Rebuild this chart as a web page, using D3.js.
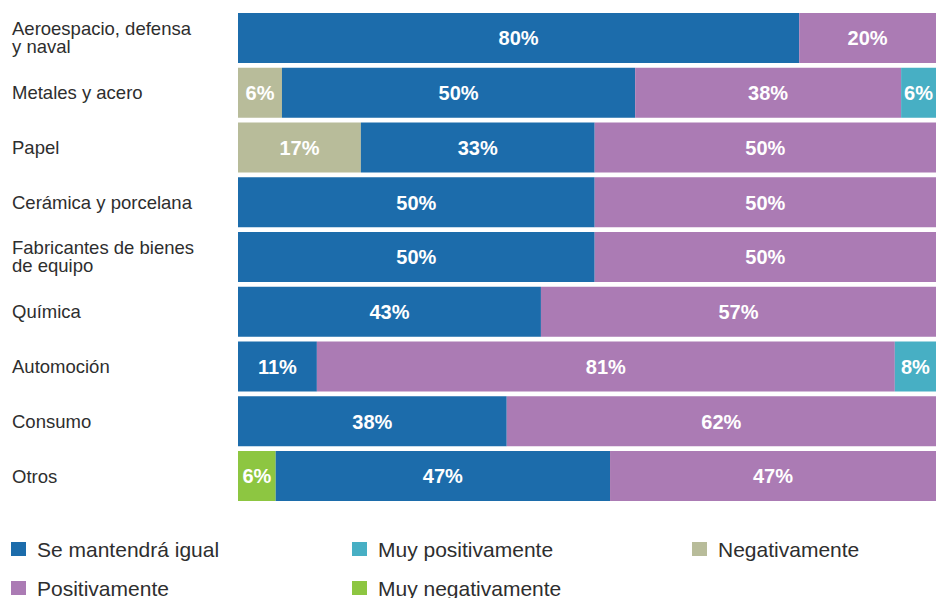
<!DOCTYPE html>
<html>
<head>
<meta charset="utf-8">
<style>
body { margin: 0; background: #fff; font-family: "Liberation Sans", Arial, sans-serif; }
.cat-label { font-size: 18.5px; fill: #2e2e2e; }
.val-label { font-size: 20px; font-weight: bold; fill: #fff; }
.legend-label { font-size: 21px; fill: #2e2e2e; }
</style>
</head>
<body>
<script src="https://cdn.jsdelivr.net/npm/d3@7"></script>
<script>
var width = 936, height = 598;

// categories (label lines)
var categories = [
  ["Aeroespacio, defensa", "y naval"],
  ["Metales y acero"],
  ["Papel"],
  ["Cerámica y porcelana"],
  ["Fabricantes de bienes", "de equipo"],
  ["Química"],
  ["Automoción"],
  ["Consumo"],
  ["Otros"]
];
var seriesKeys = ["Muy negativamente", "Negativamente", "Se mantendrá igual", "Positivamente", "Muy positivamente"];

// bar lengths as drawn in the picture (share of each bar, %)
var muyNegativamente = [0, 0, 0, 0, 0, 0, 0, 0, 5.4];
var negativamente    = [0, 6.3, 17.6, 0, 0, 0, 0, 0, 0];
var seMantendra      = [80.4, 50.6, 33.5, 51.1, 51.1, 43.4, 11.3, 38.5, 47.9];
var positivamente    = [19.6, 38.1, 48.9, 48.9, 48.9, 56.6, 82.8, 61.5, 46.7];
var muyPositivamente = [0, 5.0, 0, 0, 0, 0, 5.9, 0, 0];

// printed labels
var lblMuyNegativamente = [null, null, null, null, null, null, null, null, "6%"];
var lblNegativamente    = [null, "6%", "17%", null, null, null, null, null, null];
var lblSeMantendra      = ["80%", "50%", "33%", "50%", "50%", "43%", "11%", "38%", "47%"];
var lblPositivamente    = ["20%", "38%", "50%", "50%", "50%", "57%", "81%", "62%", "47%"];
var lblMuyPositivamente = [null, "6%", null, null, null, null, "8%", null, null];
var labelSets = {
  "Muy negativamente": lblMuyNegativamente,
  "Negativamente": lblNegativamente,
  "Se mantendrá igual": lblSeMantendra,
  "Positivamente": lblPositivamente,
  "Muy positivamente": lblMuyPositivamente
};

var colors = ["#8dc641", "#b8bc9a", "#1c6cab", "#ab7bb4", "#47afc4"];
var legendOrder = ["Se mantendrá igual", "Muy positivamente", "Negativamente", "Positivamente", "Muy negativamente"];

var rows = categories.map(function(c, i) {
  return {
    idx: i, name: c.join(" "), lines: c,
    "Muy negativamente": muyNegativamente[i],
    "Negativamente": negativamente[i],
    "Se mantendrá igual": seMantendra[i],
    "Positivamente": positivamente[i],
    "Muy positivamente": muyPositivamente[i]
  };
});

var svg = d3.select("body").append("svg")
    .attr("width", width)
    .attr("height", height);

var x = d3.scaleLinear().domain([0, 100]).range([238, 936]);
var y = d3.scaleBand().domain(rows.map(function(d) { return d.name; }))
    .range([13, 501]).paddingInner(0.0868).paddingOuter(0);
var color = d3.scaleOrdinal().domain(seriesKeys).range(colors);

var stacked = d3.stack().keys(seriesKeys)(rows);

var layer = svg.selectAll("g.layer").data(stacked).enter().append("g")
    .attr("class", "layer")
    .attr("fill", function(d) { return color(d.key); });

layer.selectAll("rect").data(function(d) { return d; }).enter().append("rect")
    .filter(function(d) { return d[1] - d[0] > 0; })
    .attr("x", function(d) { return x(d[0]); })
    .attr("y", function(d) { return y(d.data.name); })
    .attr("width", function(d) { return x(d[1]) - x(d[0]); })
    .attr("height", y.bandwidth());

layer.each(function(s) {
  var labels = labelSets[s.key];
  d3.select(this).selectAll("text").data(s).enter().append("text")
      .filter(function(d) { return labels[d.data.idx]; })
      .attr("class", "val-label")
      .attr("x", function(d) { return (x(d[0]) + x(d[1])) / 2; })
      .attr("y", function(d) { return y(d.data.name) + y.bandwidth() / 2; })
      .attr("dy", "0.37em")
      .attr("text-anchor", "middle")
      .text(function(d) { return labels[d.data.idx]; });
});

// category labels
var cat = svg.selectAll("text.cat-label").data(rows).enter().append("text")
    .attr("class", "cat-label")
    .attr("x", 12)
    .attr("y", function(d) {
      var c = y(d.name) + y.bandwidth() / 2;
      return d.lines.length > 1 ? c - 3 : c + 6.5;
    });
cat.selectAll("tspan").data(function(d) { return d.lines; }).enter().append("tspan")
    .attr("x", 12)
    .attr("dy", function(d, i) { return i === 0 ? 0 : 18; })
    .text(function(d) { return d; });

// legend
var legendPos = [[11, 542], [352, 542], [692, 542], [11, 581], [352, 581]];
var legend = svg.selectAll("g.legend").data(legendOrder).enter().append("g")
    .attr("class", "legend")
    .attr("transform", function(d, i) { return "translate(" + legendPos[i][0] + "," + legendPos[i][1] + ")"; });
legend.append("rect")
    .attr("width", 15).attr("height", 14)
    .attr("fill", function(d) { return color(d); });
legend.append("text")
    .attr("class", "legend-label")
    .attr("x", 26).attr("y", 14.5)
    .text(function(d) { return d; });
</script>
</body>
</html>
